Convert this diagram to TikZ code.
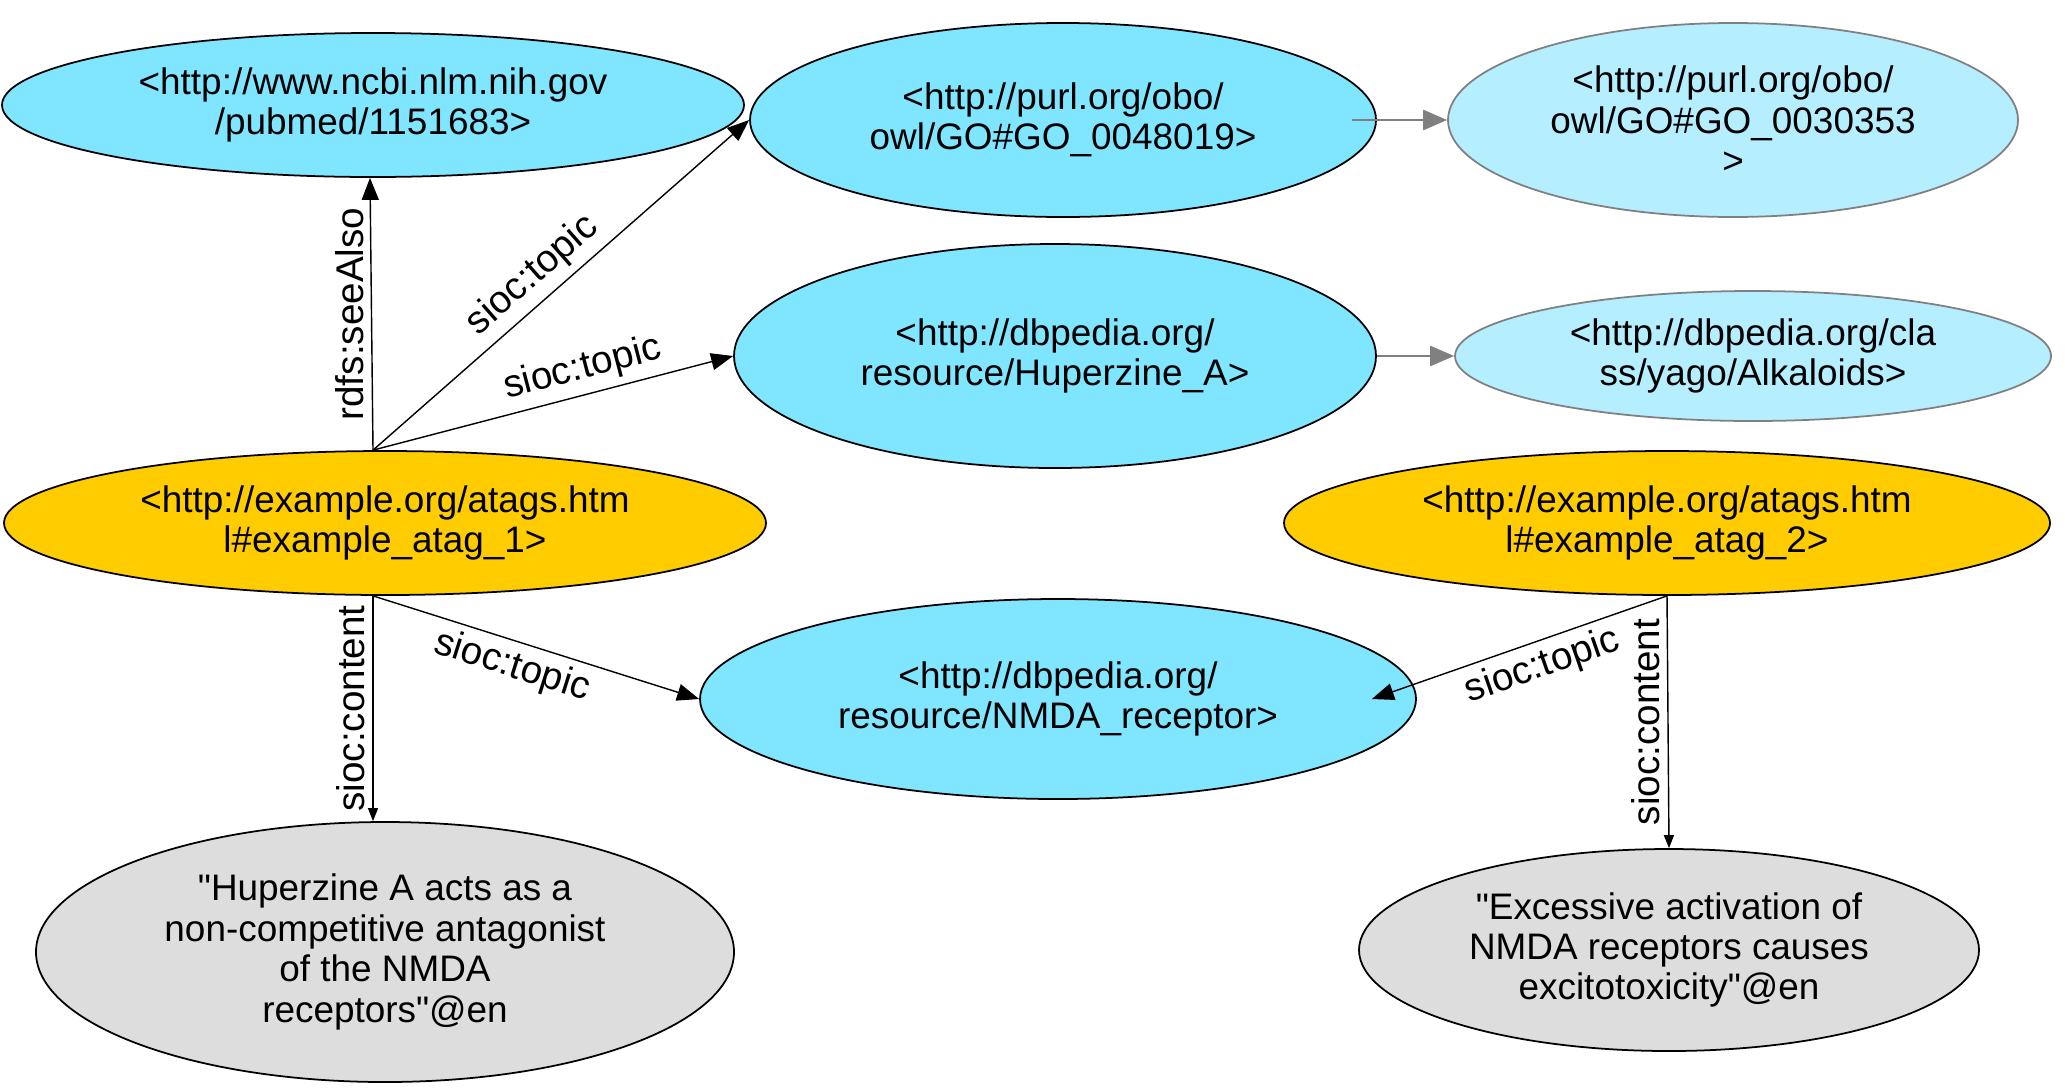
\documentclass[tikz,border=0pt]{standalone}
\usepackage{fontspec}
\setmainfont{Liberation Sans}[Ligatures=TeXOff]
\usetikzlibrary{shapes.geometric,arrows.meta}
\definecolor{uriblue}{RGB}{128,229,255}
\definecolor{uripale}{RGB}{180,238,255}
\definecolor{tagyellow}{RGB}{255,204,0}
\definecolor{litgray}{RGB}{221,221,221}
\tikzset{
  blob/.style={ellipse, draw, line width=0.5pt, inner sep=0pt, align=center,
    font=\fontsize{10.5}{11.5}\selectfont},
  uri/.style={blob, fill=uriblue},
  pale/.style={blob, fill=uripale, draw=gray},
  tag/.style={blob, fill=tagyellow},
  lit/.style={blob, fill=litgray},
  rel/.style={line width=0.4pt, -{Triangle[length=0.22cm,width=0.17cm]}},
  relsmall/.style={line width=0.4pt, -{Triangle[length=0.13cm,width=0.1cm]}},
  sub/.style={draw=gray, line width=0.8pt, -{Triangle[length=0.24cm,width=0.2cm]}, gray},
  lbl/.style={font=\fontsize{11}{12}\selectfont, inner sep=2pt}
}
\begin{document}
\begin{tikzpicture}
     \useasboundingbox (0,0) rectangle (20.65,-10.88);

     \node[uri, minimum width=7.42cm, minimum height=1.44cm] (pub) at (3.73,-1.05)
       {<http://www.ncbi.nlm.nih.gov\\/pubmed/1151683>};
     \node[uri, minimum width=6.26cm, minimum height=1.94cm] (go1) at (10.63,-1.20)
       {<http://purl.org/obo/\\owl/GO\#GO\_0048019>};
     \node[pale, minimum width=5.70cm, minimum height=1.94cm] (go2) at (17.33,-1.20)
       {<http://purl.org/obo/\\owl/GO\#GO\_0030353\\>};
     \node[uri, minimum width=6.42cm, minimum height=2.24cm] (hup) at (10.55,-3.56)
       {<http://dbpedia.org/\\resource/Huperzine\_A>};
     \node[pale, minimum width=5.96cm, minimum height=1.30cm] (alk) at (17.53,-3.56)
       {<http://dbpedia.org/cla\\ss/yago/Alkaloids>};

     \node[tag, minimum width=7.62cm, minimum height=1.44cm] (a1) at (3.85,-5.23)
       {<http://example.org/atags.htm\\l\#example\_atag\_1>};
     \node[tag, minimum width=7.66cm, minimum height=1.44cm] (a2) at (16.67,-5.23)
       {<http://example.org/atags.htm\\l\#example\_atag\_2>};
     \node[uri, minimum width=7.16cm, minimum height=2.00cm] (nmda) at (10.58,-6.99)
       {<http://dbpedia.org/\\resource/NMDA\_receptor>};

     \node[lit, minimum width=6.98cm, minimum height=2.60cm] (txt1) at (3.85,-9.52)
       {"Huperzine A acts as a\\non-competitive antagonist\\of the NMDA\\receptors"@en};
     \node[lit, minimum width=6.20cm, minimum height=2.02cm] (txt2) at (16.69,-9.50)
       {"Excessive activation of\\NMDA receptors causes\\excitotoxicity"@en};

     \draw[rel] ([xshift=-1.2mm]a1.north) -- ([xshift=-0.3mm]pub.south)
       node[lbl, midway, rotate=90, anchor=south] {rdfs:seeAlso};
     \draw[rel] ([xshift=-1.2mm]a1.north) -- (go1.west)
       node[lbl, sloped, above, pos=0.47] {sioc:topic};
     \draw[rel] ([xshift=-1.2mm]a1.north) -- (hup.west)
       node[lbl, sloped, above, pos=0.6] {sioc:topic};
     \draw[rel] ([xshift=-1.2mm]a1.south) -- (nmda.west)
       node[lbl, sloped, below, pos=0.45] {sioc:topic};
     \draw[relsmall] ([xshift=-1.2mm]a1.south) -- ([xshift=-1.2mm]txt1.north)
       node[lbl, midway, rotate=90, anchor=south] {sioc:content};

     \draw[rel] (a2.south) -- ([xshift=-4.5mm]nmda.east)
       node[lbl, sloped, below, pos=0.45] {sioc:topic};
     \draw[relsmall] (a2.south) -- (txt2.north)
       node[lbl, midway, rotate=90, anchor=south] {sioc:content};

     \draw[sub] ([xshift=-2.5mm]go1.east) -- (go2.west);
     \draw[sub] (hup.east) -- (alk.west);
    \end{tikzpicture}
\end{document}
